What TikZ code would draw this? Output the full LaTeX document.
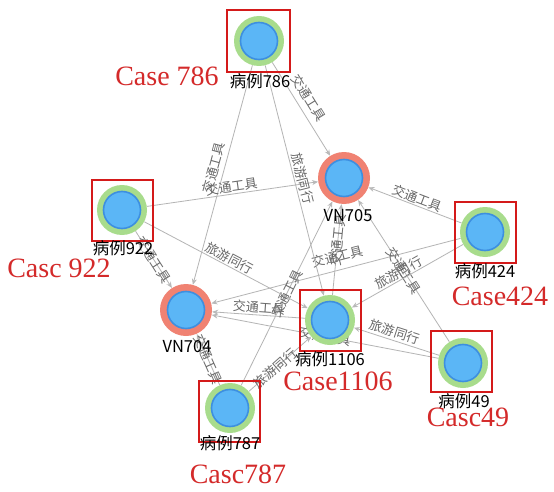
\documentclass[tikz,border=0pt]{standalone}
\usepackage{fontspec}
\setmainfont{Liberation Serif}
\newfontfamily\cjk{Noto Sans CJK SC}
\usetikzlibrary{arrows.meta,backgrounds}
\definecolor{haloG}{HTML}{A8DC8C}
\definecolor{haloR}{HTML}{F08272}
\definecolor{innerB}{HTML}{5BB6F6}
\definecolor{innerBd}{HTML}{3D8FE0}
\definecolor{boxR}{HTML}{D41A1A}
\definecolor{capR}{HTML}{D42A2A}
\definecolor{edgeG}{HTML}{B4B4B4}
\definecolor{labG}{HTML}{686868}
\begin{document}
\begin{tikzpicture}[x=1pt,y=-1pt,
 nodebase/.style={circle, minimum size=50pt, inner sep=0pt,
   path picture={\draw[fill=innerB,draw=innerBd,line width=1.6pt] (path picture bounding box.center) circle (18.5pt);}},
 casenode/.style={nodebase, fill=haloG},
 vnnode/.style={nodebase, fill=haloR, minimum size=52pt},
 redbox/.style={draw=boxR, line width=2pt, minimum width=61pt, minimum height=61pt, inner sep=0pt},
 nlabel/.style={font=\cjk\fontsize{16.5}{16.5}\selectfont, text=black, inner sep=0pt},
 caption/.style={font=\fontsize{28}{28}\selectfont, text=capR, inner sep=0pt},
 link/.style={draw=edgeG, line width=0.8pt, -{Stealth[length=6pt,width=5pt,color=gray!55]}},
 elabel/.style={font=\cjk\fontsize{13}{13}\selectfont, text=labG, sloped, inner sep=1pt}]
\useasboundingbox (0,0) rectangle (554,492);
% nodes
\node[casenode] (c786) at (259,41) {};
\node[vnnode] (v705) at (344,178) {};
\node[casenode] (c922) at (122,210) {};
\node[casenode] (c424) at (485,232) {};
\node[vnnode] (v704) at (186,310) {};
\node[casenode] (c1106) at (330,320) {};
\node[casenode] (c49) at (463,363) {};
\node[casenode] (c787) at (230,408) {};
% edges
\begin{scope}[on background layer]
\fill[white] (0,0) rectangle (554,492);
\draw[link] (c786) -- node[elabel,pos=0.45,above=5pt]{交通工具} (v705);
\draw[link] (c786) -- node[elabel,pos=0.48,above=3pt]{交通工具} (v704);
\draw[link] (c922) -- node[elabel,above]{交通工具} (v705);
\draw[link] (c922) -- node[elabel]{交通工具} (v704);
\draw[link] (c424) -- node[elabel,above]{交通工具} (v705);
\draw[link] (c424) -- node[elabel,pos=0.48,above=6pt]{交通工具} (v704);
\draw[link] (c1106) -- node[elabel,pos=0.6]{交通工具} (v705);
\draw[link] (c1106) -- node[elabel,pos=0.5,above]{交通工具} (v704);
\draw[link] (c49) -- node[elabel]{交通工具} (v705);
\draw[link] (c49) -- node[elabel]{交通工具} (v704);
\draw[link] (c787) -- node[elabel]{交通工具} (v705);
\draw[link] (c787) -- node[elabel]{交通工具} (v704);
\draw[link] (c786) -- node[elabel,pos=0.5,above=1pt]{旅游同行} (c1106);
\draw[link] (c922) -- node[elabel,pos=0.5,above]{旅游同行} (c1106);
\draw[link] (c424) -- node[elabel,pos=0.55,above]{旅游同行} (c1106);
\draw[link] (c49) -- node[elabel,pos=0.55,above=1pt]{旅游同行} (c1106);
\draw[link] (c787) -- node[elabel,pos=0.42]{旅游同行} (c1106);
\end{scope}
% red boxes
\node[redbox, minimum width=63pt, minimum height=62pt] (b786) at (258.5,41) {};
\node[redbox] (b922) at (122.5,210) {};
\node[redbox] (b424) at (485,232) {};
\node[redbox] (b1106) at (330,320) {};
\node[redbox] (b49) at (461,361) {};
\node[redbox] (b787) at (229,411) {};
% node labels
\node[nlabel] (l786) at (260,81) {病例786};
\node[nlabel] (l705) at (348,216) {VN705};
\node[nlabel] (l922) at (123,248) {病例922};
\node[nlabel] (l424) at (485,271) {病例424};
\node[nlabel] (l704) at (187,347) {VN704};
\node[nlabel] (l1106) at (330,359) {病例1106};
\node[nlabel] (l49) at (464,401) {病例49};
\node[nlabel] (l787) at (230,443) {病例787};
% captions
\node[caption] (k786) at (167,76) {Case 786};
\node[caption] (k922) at (59,268) {Casc 922};
\node[caption] (k424) at (500,296) {Case424};
\node[caption] (k1106) at (338,381) {Case1106};
\node[caption] (k49) at (468,417) {Casc49};
\node[caption] (k787) at (238,474) {Casc787};
\end{tikzpicture}
\end{document}
